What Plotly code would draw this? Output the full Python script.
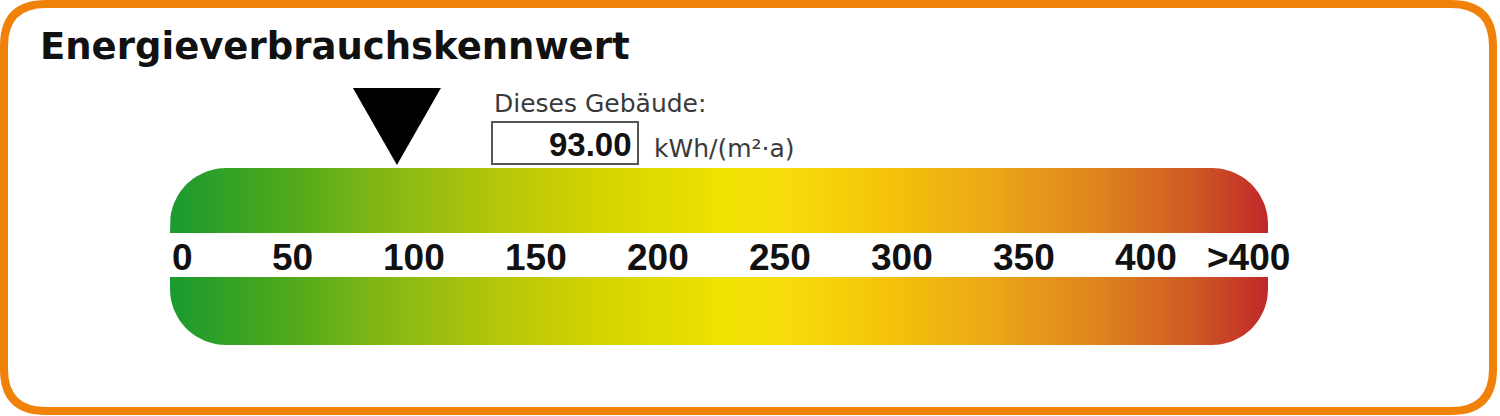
import numpy as np
import plotly.graph_objects as go

# ---------------- data ----------------
title_text = "Energieverbrauchskennwert"
value_caption = "Dieses Gebäude:"
unit_text = "kWh/(m²·a)"
building_value = 93.00
scale_max = 450
tick_vals = [0, 50, 100, 150, 200, 250, 300, 350, 400, 442]
tick_text = ["0", "50", "100", "150", "200", "250", "300", "350", "400", ">400"]
gradient_stops = [0.0, 0.10, 0.20, 0.30, 0.40, 0.50, 0.56, 0.64, 0.74, 0.84, 0.93, 1.0]
gradient_colors = ["#1a9a30", "#4aa81c", "#86b814", "#b6c60a", "#d6d500", "#eee200",
                   "#f7dd0c", "#f5c708", "#ecaa16", "#df861e", "#cf5a24", "#c0282a"]

# ---------------- layout geometry ----------------
W, H = 1500, 416
PX = 2.44          # pixels per kWh unit
X0 = 170           # pixel position of value 0
xr = [-X0 / PX, (W - X0) / PX]

R_PX = 56
rx = R_PX / PX
ry = R_PX
colorscale = [[s, c] for s, c in zip(gradient_stops, gradient_colors)]


def arc(cx, cy, a0, a1, n=24):
    t = np.radians(np.linspace(a0, a1, n))
    return list(cx + rx * np.cos(t)), list(cy - ry * np.sin(t))


def upper_band(y_top, y_bot, xmax):
    xs, ys = [0], [y_bot]
    ax, ay = arc(rx, y_top + ry, 180, 90)
    xs += ax; ys += ay
    ax, ay = arc(xmax - rx, y_top + ry, 90, 0)
    xs += ax; ys += ay
    xs += [xmax, 0]; ys += [y_bot, y_bot]
    return xs, ys


def lower_band(y_top, y_bot, xmax):
    xs, ys = [0, xmax], [y_top, y_top]
    ax, ay = arc(xmax - rx, y_bot - ry, 0, -90)
    xs += ax; ys += ay
    ax, ay = arc(rx, y_bot - ry, -90, -180)
    xs += ax; ys += ay
    xs += [0]; ys += [y_top]
    return xs, ys


fig = go.Figure()

for xs, ys in (upper_band(168, 233, scale_max), lower_band(277, 345, scale_max)):
    fig.add_trace(go.Scatter(
        x=xs, y=ys, mode="lines", fill="toself",
        line=dict(width=0, color="rgba(0,0,0,0)"),
        fillgradient=dict(type="horizontal", colorscale=colorscale),
        hoverinfo="skip", showlegend=False))

# marker triangle at building value
hw = 44 / PX
fig.add_trace(go.Scatter(
    x=[building_value - hw, building_value + hw, building_value, building_value - hw],
    y=[88, 88, 165, 88], mode="lines", fill="toself",
    fillcolor="#000000", line=dict(width=0, color="#000000"),
    hoverinfo="skip", showlegend=False))

# tick labels
annotations = []
for v, t in zip(tick_vals, tick_text):
    annotations.append(dict(
        x=v, y=257, xref="x", yref="y", text=t, showarrow=False,
        xanchor="left" if v == 0 else "center", yanchor="middle",
        font=dict(family="Liberation Sans, Arial", size=37, color="#111111", weight="bold")))

annotations += [
    dict(x=38 / W, y=46, xref="paper", yref="y", text=title_text, showarrow=False,
         xanchor="left", yanchor="middle",
         font=dict(family="DejaVu Sans", size=37, color="#111111", weight="bold")),
    dict(x=492 / W, y=103, xref="paper", yref="y", text=value_caption, showarrow=False,
         xanchor="left", yanchor="middle",
         font=dict(family="DejaVu Sans", size=25, color="#3a3a3a")),
    dict(x=634 / W, y=144, xref="paper", yref="y", text=f"{building_value:.2f}", showarrow=False,
         xanchor="right", yanchor="middle",
         font=dict(family="Liberation Sans, Arial", size=33, color="#111111", weight="bold")),
    dict(x=652 / W, y=148, xref="paper", yref="y", text=unit_text, showarrow=False,
         xanchor="left", yanchor="middle",
         font=dict(family="DejaVu Sans", size=25, color="#3a3a3a")),
]


def px(x):
    return x / W


L, T, Rr, B, rad = 4, 4, 1493, 411, 42
border_path = (
    f"M {px(L + rad)},{T} L {px(Rr - rad)},{T} Q {px(Rr)},{T} {px(Rr)},{T + rad} "
    f"L {px(Rr)},{B - rad} Q {px(Rr)},{B} {px(Rr - rad)},{B} "
    f"L {px(L + rad)},{B} Q {px(L)},{B} {px(L)},{B - rad} "
    f"L {px(L)},{T + rad} Q {px(L)},{T} {px(L + rad)},{T} Z"
)

shapes = [
    dict(type="path", xref="paper", yref="y", path=border_path,
         line=dict(color="#f0820a", width=8), fillcolor="rgba(0,0,0,0)", layer="below"),
    dict(type="rect", xref="paper", yref="y", x0=px(492), x1=px(638), y0=122, y1=164,
         line=dict(color="#555555", width=2), fillcolor="white", layer="below"),
]

fig.update_layout(
    width=W, height=H,
    margin=dict(l=0, r=0, t=0, b=0),
    paper_bgcolor="white", plot_bgcolor="white",
    xaxis=dict(range=xr, visible=False, fixedrange=True),
    yaxis=dict(range=[H, 0], visible=False, fixedrange=True),
    annotations=annotations, shapes=shapes,
    showlegend=False,
)

fig.write_html(
    "out.html",
    config={"displayModeBar": False},
    post_script="document.body.style.margin='0';document.body.style.overflow='hidden';",
)
